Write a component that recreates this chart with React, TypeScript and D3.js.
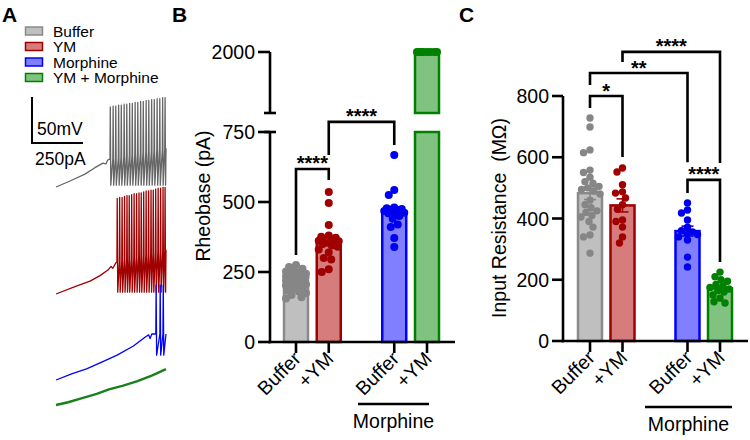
import React from "react";
import * as d3 from "d3";

const FONT = "'Liberation Sans', Arial, Helvetica, sans-serif";

// ---------- shared style ----------
const legendLabels = ["Buffer", "YM", "Morphine", "YM + Morphine"];
const barFills = ["#bfbfbf", "#d67c7c", "#7f7fff", "#80c280"];
const barStrokes = ["#8a8a8a", "#a00000", "#0000ff", "#008000"];
const dotColors = ["#868686", "#a00000", "#0000f0", "#008000"];
const traceColors = ["#666666", "#a00000", "#0000ff", "#1a801a"];

// ---------- panel A: ramp recordings ([pA, mV]) ----------
const bufferRamp = [[0, -70], [69, -63.5], [142, -56], [191, -49], [231, -44], [245, -45], [253, -41], [260, -40], [540, -28]];
const bufferSpikes = [[265, 17], [279, 18], [292, 18], [306, 19], [319, 19], [333, 20], [346, 20], [360, 21], [373, 21], [387, 22], [400, 22], [414, 23], [427, 23], [441, 24], [454, 24], [468, 25], [481, 25], [495, 26], [508, 26], [522, 27], [534, 27]];
const ymRamp = [[0, -70], [93, -62], [167, -56], [216, -50], [255, -44], [270, -40], [279, -42], [294, -36], [540, -22]];
const ymSpikes = [[299, 34], [311, 35], [323, 35], [335, 36], [347, 37], [358, 37], [370, 38], [382, 39], [394, 39], [406, 40], [417, 40], [429, 41], [441, 42], [453, 42], [465, 43], [476, 43], [488, 44], [500, 45], [512, 45], [524, 46], [534, 46]];
const morphRamp = [[0, -70], [80, -63], [150, -58], [230, -50], [300, -43], [380, -33], [440, -23], [455, -21], [462, -25], [470, -20], [540, -20]];
const morphSpikes = [[490, 33], [510, 33], [525, 33]];
const morphYmRamp = [[0, -70], [60, -67], [120, -63], [200, -58], [260, -53], [330, -49], [400, -44], [470, -38], [540, -31]];
const morphYmSpikes: number[][] = [];
const traceTroughs = [-68, -68, -43, -70];
const scaleBarMv = 50;
const scaleBarPa = 250;

// ---------- panel B: Rheobase (pA) ----------
const rheoBuffer = [275, 268, 262, 258, 252, 248, 244, 240, 238, 235, 232, 230, 228, 225, 222, 220, 218, 215, 212, 210, 208, 205, 202, 200, 198, 195, 190, 185, 180, 175, 168, 160, 155];
const rheoYM = [536, 496, 418, 380, 376, 372, 368, 365, 362, 360, 358, 355, 350, 345, 340, 330, 320, 300, 295, 260, 250];
const rheoMorph = [668, 543, 525, 480, 478, 475, 472, 470, 468, 465, 462, 460, 450, 440, 420, 411, 371, 339];
const rheoMorphYM = [2000, 2000, 2000, 2000, 2000, 2000, 2000, 2000];
const rheoTicks = [0, 250, 500, 750];
const rheoUpperTicks = [2000];
const rheoSig = [
  { a: 0, b: 1, top: 618, endA: 311, endB: 579, label: "****" },
  { a: 1, b: 2, top: 786, endA: 668, endB: 704, label: "****" },
];

// ---------- panel C: Input resistance (MΩ) ----------
const rinBuffer = [728, 699, 624, 615, 558, 550, 535, 520, 515, 505, 500, 495, 490, 480, 460, 445, 435, 425, 420, 410, 405, 390, 372, 346, 340, 287];
const rinYM = [565, 552, 510, 487, 483, 467, 445, 430, 395, 390, 372, 340, 320];
const rinMorph = [451, 428, 418, 395, 372, 360, 356, 352, 348, 340, 330, 274, 242];
const rinMorphYM = [225, 210, 200, 195, 185, 180, 175, 170, 165, 160, 150, 140, 128, 124];
const rinTicks = [0, 200, 400, 600, 800];
const rinSig = [
  { a: 0, b: 1, top: 800, endA: 761, endB: 601, label: "*" },
  { a: 0, b: 2, top: 875, endA: 836, endB: 584, label: "**" },
  { a: 1, b: 3, top: 944, endA: 911, endB: 581, label: "****" },
  { a: 2, b: 3, top: 526, endA: 483, endB: 258, label: "****" },
];

const xLabels = ["Buffer", "+YM", "Buffer", "+YM"];
const slots = [0, 1, 3, 4];

// simple deterministic beeswarm
function swarm(values: number[], y: (v: number) => number, r: number, maxHalf: number) {
  const order = values.map((_, i) => i).sort((a, b) => values[b] - values[a]);
  const placed: { x: number; y: number }[] = [];
  const out: { dx: number; y: number }[] = new Array(values.length);
  const minD = 2 * r * 0.9;
  order.forEach((i) => {
    const yy = y(values[i]);
    let best = 0;
    let bestScore = -Infinity;
    for (let k = 0; k <= maxHalf * 4; k++) {
      const dx = (k % 2 ? -1 : 1) * Math.ceil(k / 2) * 0.5;
      let dmin = Infinity;
      for (const p of placed) {
        const d = Math.hypot(p.x - dx, p.y - yy);
        if (d < dmin) dmin = d;
      }
      if (dmin >= minD) {
        best = dx;
        break;
      }
      if (dmin > bestScore) {
        bestScore = dmin;
        best = dx;
      }
    }
    placed.push({ x: best, y: yy });
    out[i] = { dx: best, y: yy };
  });
  return out;
}

function sem(v: number[]) {
  return (d3.deviation(v) || 0) / Math.sqrt(v.length);
}

const AX = { stroke: "#000", strokeWidth: 2.6, fill: "none" } as const;

function Bars({ groups, x, y, r, half }: any) {
  return (
    <g>
      {groups.map((vals: number[], i: number) => {
        const cx = x(slots[i]);
        const m = d3.mean(vals) as number;
        const s = sem(vals);
        const y0 = y(0);
        const broken = y.split && m > y.lowMax;
        return (
          <g key={"bar" + i}>
            {broken ? (
              <>
                <rect x={cx - 12} y={y.low(y.lowMax)} width={24} height={y0 - y.low(y.lowMax)} fill={barFills[i]} stroke={barStrokes[i]} strokeWidth={2.5} />
                <rect x={cx - 12} y={y(m)} width={24} height={y.up(y.upMin) - y(m)} fill={barFills[i]} stroke={barStrokes[i]} strokeWidth={2.5} />
              </>
            ) : (
              <rect x={cx - 12} y={y(m)} width={24} height={y0 - y(m)} fill={barFills[i]} stroke={barStrokes[i]} strokeWidth={2.5} />
            )}
            {s > 0 && (
              <g stroke={dotColors[i]} strokeWidth={1.6}>
                <line x1={cx} x2={cx} y1={y(m - s)} y2={y(m + s)} />
                <line x1={cx - 6} x2={cx + 6} y1={y(m - s)} y2={y(m - s)} />
                <line x1={cx - 6} x2={cx + 6} y1={y(m + s)} y2={y(m + s)} />
              </g>
            )}
          </g>
        );
      })}
      {groups.map((vals: number[], i: number) => {
        const cx = x(slots[i]);
        return swarm(vals, y, r, half).map((p, j) => (
          <circle key={"d" + i + "-" + j} cx={cx + p.dx} cy={p.y} r={r} fill={dotColors[i]} />
        ));
      })}
    </g>
  );
}

function Brackets({ sig, x, y }: any) {
  return (
    <g>
      {sig.map((s: any, i: number) => {
        const xa = x(slots[s.a]);
        const xb = x(slots[s.b]);
        const yt = y(s.top);
        return (
          <g key={"s" + i}>
            <path d={`M${xa},${y(s.endA)}V${yt}H${xb}V${y(s.endB)}`} {...AX} />
            <text x={(xa + xb) / 2} y={yt + 1.5} textAnchor="middle" fontSize={20} fontWeight="bold" fontFamily={FONT}>
              {s.label}
            </text>
          </g>
        );
      })}
    </g>
  );
}

function XAxis({ x, y0, axisX, xEnd, lineY, lineX }: any) {
  return (
    <g fontFamily={FONT} fontSize={19.5}>
      <line x1={axisX - 1.3} x2={xEnd} y1={y0} y2={y0} {...AX} />
      {slots.map((sl, i) => (
        <g key={"xt" + i}>
          <line x1={x(sl)} x2={x(sl)} y1={y0} y2={y0 + 11} {...AX} />
          <text transform={`translate(${x(sl) + 6},${y0 + 18}) rotate(-45)`} textAnchor="end">
            {xLabels[i]}
          </text>
        </g>
      ))}
      <line x1={lineX[0]} x2={lineX[1]} y1={lineY} y2={lineY} {...AX} />
      <text x={(lineX[0] + lineX[1]) / 2} y={lineY + 24} textAnchor="middle">
        Morphine
      </text>
    </g>
  );
}

function PanelA() {
  const tx = d3.scaleLinear().domain([0, 540]).range([56, 166]);
  const mvPx = 0.92;
  const bases = [187, 294, 380, 405];
  const rest = -70;
  const traces = [
    [bufferRamp, bufferSpikes],
    [ymRamp, ymSpikes],
    [morphRamp, morphSpikes],
    [morphYmRamp, morphYmSpikes],
  ];
  const paths = traces.map(([ramp, spikes], i) => {
    const rs = d3.scaleLinear().domain(ramp.map((d) => d[0])).range(ramp.map((d) => d[1]));
    const pts: number[][] = ramp.filter((d) => !spikes.some((s) => d[0] >= s[0] && d[0] <= s[0] + 5)).map((d) => [d[0], d[1]]);
    spikes.forEach(([sx, pk]) => {
      pts.push([sx, rs(sx)]);
      pts.push([sx + 1.5, pk]);
      pts.push([sx + 4, traceTroughs[i]]);
    });
    pts.sort((a, b) => a[0] - b[0]);
    const line = d3
      .line<number[]>()
      .x((d) => tx(d[0]))
      .y((d) => bases[i] - (d[1] - rest) * mvPx);
    return line(pts) as string;
  });
  const sbX = 32;
  const sbY = 143;
  return (
    <g fontFamily={FONT}>
      {legendLabels.map((l, i) => (
        <g key={"lg" + i} transform={`translate(0,${31 + i * 15.5})`}>
          <rect x={25.5} y={-4} width={17} height={8} fill={barFills[i]} stroke={barStrokes[i]} strokeWidth={1.5} />
          <text x={53} y={5.5} fontSize={15.5}>
            {l}
          </text>
        </g>
      ))}
      <path
        d={`M${sbX},${sbY - scaleBarMv * mvPx}V${sbY}H${sbX + tx(scaleBarPa) - tx(0)}`}
        fill="none"
        stroke="#000"
        strokeWidth={2}
      />
      <text x={37} y={135} fontSize={17.5}>
        50mV
      </text>
      <text x={35} y={165} fontSize={17.5}>
        250pA
      </text>
      {paths.map((d, i) => (
        <path key={"tr" + i} d={d} fill="none" stroke={traceColors[i]} strokeWidth={i === 3 ? 2.4 : 1.3} strokeLinejoin="round" />
      ))}
    </g>
  );
}

function PanelB() {
  const axisX = 270;
  const low = d3.scaleLinear().domain([0, 750]).range([342, 132]);
  const up = d3.scaleLinear().domain([1000, 2000]).range([113, 52]);
  const y: any = (v: number) => (v > 1000 ? up(v) : low(v));
  y.split = true;
  y.low = low;
  y.up = up;
  y.lowMax = 750;
  y.upMin = 1000;
  const x = d3.scaleLinear().domain([0, 4]).range([296, 427]);
  const groups = [rheoBuffer, rheoYM, rheoMorph, rheoMorphYM];
  return (
    <g>
      <Bars groups={groups} x={x} y={y} r={4} half={10} />
      <g fontFamily={FONT} fontSize={19.5}>
        <line x1={axisX} x2={axisX} y1={low(0) + 1.3} y2={low(750)} {...AX} />
        <line x1={axisX} x2={axisX} y1={up(1000)} y2={up(2000)} {...AX} />
        <line x1={axisX - 6} x2={axisX + 6} y1={low(750)} y2={low(750)} {...AX} />
        <line x1={axisX - 6} x2={axisX + 6} y1={up(1000)} y2={up(1000)} {...AX} />
        {rheoTicks.map((t) => (
          <g key={"yt" + t}>
            <line x1={axisX - 12} x2={axisX} y1={low(t)} y2={low(t)} {...AX} />
            <text x={axisX - 15} y={low(t)} dy="0.36em" textAnchor="end">
              {t}
            </text>
          </g>
        ))}
        {rheoUpperTicks.map((t) => (
          <g key={"yu" + t}>
            <line x1={axisX - 12} x2={axisX} y1={up(t)} y2={up(t)} {...AX} />
            <text x={axisX - 15} y={up(t)} dy="0.36em" textAnchor="end">
              {t}
            </text>
          </g>
        ))}
        <text transform="translate(210,196) rotate(-90)" textAnchor="middle">
          Rheobase (pA)
        </text>
      </g>
      <XAxis x={x} y0={low(0)} axisX={axisX} xEnd={455} lineY={404} lineX={[358, 429]} />
      <Brackets sig={rheoSig} x={x} y={low} />
    </g>
  );
}

function PanelC() {
  const axisX = 563;
  const y = d3.scaleLinear().domain([0, 800]).range([341, 96]);
  const x = d3.scaleLinear().domain([0, 4]).range([590, 720]);
  const groups = [rinBuffer, rinYM, rinMorph, rinMorphYM];
  return (
    <g>
      <Bars groups={groups} x={x} y={y} r={3.7} half={10} />
      <g fontFamily={FONT} fontSize={19.5}>
        <line x1={axisX} x2={axisX} y1={y(0) + 1.3} y2={y(800)} {...AX} />
        {rinTicks.map((t) => (
          <g key={"yt" + t}>
            <line x1={axisX - 11} x2={axisX} y1={y(t)} y2={y(t)} {...AX} />
            <text x={axisX - 14} y={y(t)} dy="0.36em" textAnchor="end">
              {t}
            </text>
          </g>
        ))}
        <text transform="translate(506,218) rotate(-90)" textAnchor="middle" style={{ whiteSpace: "pre" }}>
          {"Input Resistance  (MΩ)"}
        </text>
      </g>
      <XAxis x={x} y0={y(0)} axisX={axisX} xEnd={748} lineY={407} lineX={[645, 732]} />
      <Brackets sig={rinSig} x={x} y={y} />
    </g>
  );
}

export default function App() {
  return (
    <svg width={750} height={440} style={{ position: "absolute", left: 0, top: 0, background: "#fff" }}>
      <g fontFamily={FONT} fontWeight="bold" fontSize={21}>
        <text x={2} y={22}>A</text>
        <text x={172} y={22}>B</text>
        <text x={459} y={22}>C</text>
      </g>
      <PanelA />
      <PanelB />
      <PanelC />
    </svg>
  );
}
